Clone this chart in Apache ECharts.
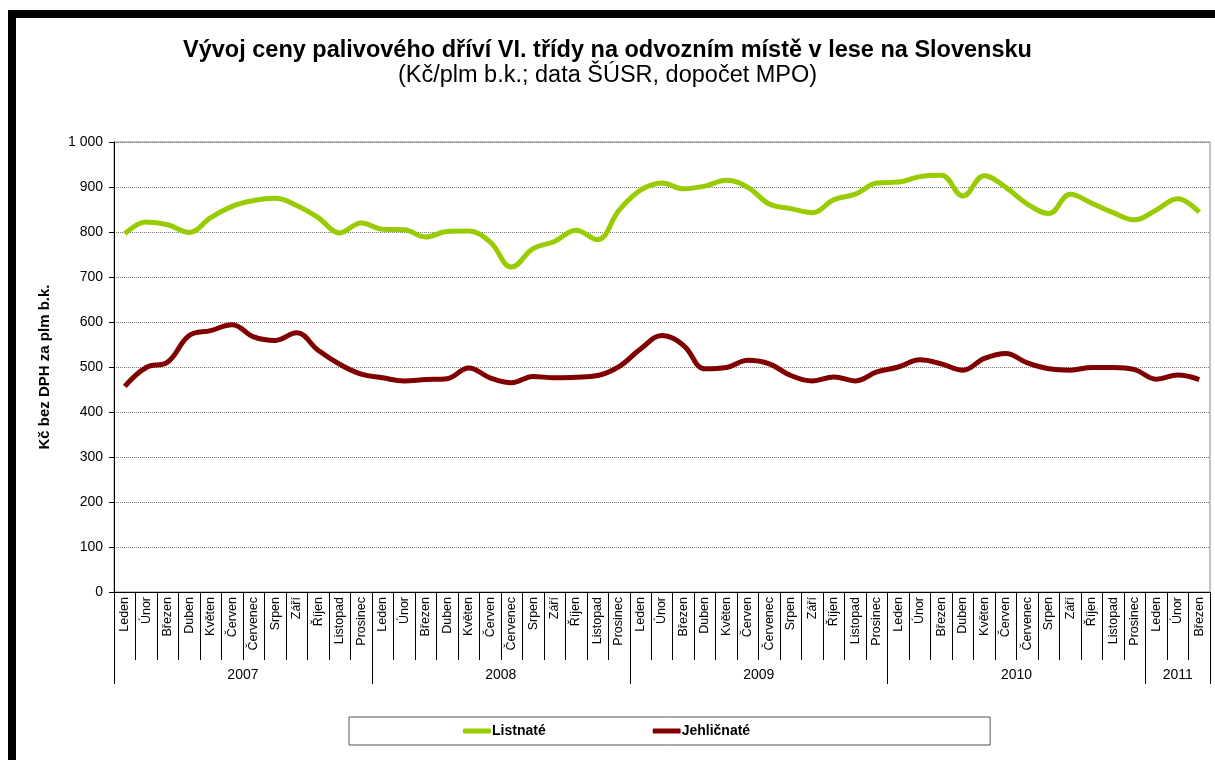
<!DOCTYPE html>
<html>
<head>
<meta charset="utf-8">
<script src="https://cdn.jsdelivr.net/npm/echarts@6/dist/echarts.min.js"></script>
<style>
html,body{margin:0;padding:0;background:#fff;overflow:hidden;}
#chart{width:1215px;height:760px;position:absolute;left:0;top:0;}
#frame{position:absolute;left:8px;top:10px;width:1207px;height:750px;border-top:8px solid #000;border-left:8px solid #000;pointer-events:none;box-sizing:border-box;}
</style>
</head>
<body>
<div id="chart"></div>
<div id="frame"></div>
<script>
const monthNames = ['Leden','Únor','Březen','Duben','Květen','Červen','Červenec','Srpen','Září','Říjen','Listopad','Prosinec'];
const yearLabels = ['2007','2008','2009','2010','2011'];
const yearMonthCounts = [12,12,12,12,3];

const listnate = [796,822,816,799,832,857,870,875,859,832,798,820,
                  806,805,789,801,802,778,722,763,779,804,783,848,
                  893,909,896,902,915,899,862,852,843,872,884,909,
                  911,923,926,880,925,899,862,841,884,864,843,827,
                  849,874,844];
const jehlicnate = [457,499,511,570,581,594,567,559,576,537,506,484,
                    476,469,472,474,498,476,465,479,476,477,481,501,
                    540,570,548,496,499,515,507,481,469,478,469,489,
                    500,516,507,493,519,530,509,496,493,499,499,494,
                    473,482,472];

const categories = [];
yearMonthCounts.forEach(n => { for (let i = 0; i < n; i++) categories.push(monthNames[i]); });
const total = categories.length;
const yearBounds = [0];
const yearCenters = [];
let acc = 0;
yearMonthCounts.forEach(n => { yearCenters.push(acc + n / 2); acc += n; yearBounds.push(acc); });

const font = 'Liberation Sans, Arial, sans-serif';
const chart = echarts.init(document.getElementById('chart'), null, {renderer: 'canvas'});
chart.setOption({
  backgroundColor: '#fff',
  animation: false,
  textStyle: {fontFamily: font},
  title: {
    text: 'Vývoj ceny palivového dříví VI. třídy na odvozním místě v lese na Slovensku',
    subtext: '(Kč/plm b.k.; data ŠÚSR, dopočet MPO)',
    left: 'center', top: 34, itemGap: 1,
    textStyle: {fontFamily: font, fontSize: 23.5, fontWeight: 'bold', color: '#000'},
    subtextStyle: {fontFamily: font, fontSize: 23.5, color: '#000'}
  },
  legend: {
    data: ['Listnaté','Jehličnaté'],
    icon: 'roundRect',
    left: 349, top: 717,
    padding: [7, 240, 7, 114],
    itemGap: 107, itemWidth: 28, itemHeight: 5,
    borderColor: '#555', borderWidth: 1,
    textStyle: {fontFamily: font, fontSize: 14, fontWeight: 'bold', color: '#000', padding: [0,0,0,-4]}
  },
  grid: {left: 114, right: 5, top: 142, bottom: 168, show: true, borderColor: '#888', borderWidth: 1, backgroundColor: 'transparent'},
  xAxis: [
    {
      type: 'category', data: categories, boundaryGap: true, position: 'bottom',
      axisLine: {lineStyle: {color: '#000', width: 1}},
      axisTick: {show: true, interval: 0, length: 68, lineStyle: {color: '#000'}},
      axisLabel: {interval: 0, rotate: 90, fontSize: 12.5, color: '#000', margin: 5, fontFamily: font},
      splitLine: {show: false}
    },
    {
      type: 'value', min: 0, max: total, interval: 12, position: 'bottom',
      axisLine: {show: false},
      axisTick: {show: true, length: 92, lineStyle: {color: '#000'}, customValues: yearBounds},
      axisLabel: {show: false},
      splitLine: {show: false}
    },
    {
      type: 'value', min: 0, max: total, position: 'bottom',
      axisLine: {show: false},
      axisTick: {show: false},
      axisLabel: {show: true, fontSize: 14, color: '#000', margin: 76, fontFamily: font,
        customValues: yearCenters,
        formatter: function (v) { const i = yearCenters.indexOf(v); return i >= 0 ? yearLabels[i] : ''; }},
      splitLine: {show: false}
    }
  ],
  yAxis: {
    type: 'value', min: 0, max: 1000, interval: 100,
    name: 'Kč bez DPH za plm b.k.', nameLocation: 'middle', nameGap: 62,
    nameTextStyle: {fontFamily: font, fontSize: 15, fontWeight: 'bold', color: '#000'},
    axisLine: {show: true, lineStyle: {color: '#000'}},
    axisTick: {show: true, length: 5, lineStyle: {color: '#000'}},
    axisLabel: {fontSize: 14, color: '#000', margin: 11, fontFamily: font,
      formatter: function (v) { return v >= 1000 ? String(v).replace(/\B(?=(\d{3})+(?!\d))/g, ' ') : String(v); }},
    splitLine: {show: true, lineStyle: {color: '#777', type: [1, 1], width: 1}}
  },
  series: [
    {name: 'Listnaté', type: 'line', xAxisIndex: 0, data: listnate, smooth: 0.4, showSymbol: false, symbol: 'none',
     lineStyle: {color: '#99CC00', width: 5}, itemStyle: {color: '#99CC00'}},
    {name: 'Jehličnaté', type: 'line', xAxisIndex: 0, data: jehlicnate, smooth: 0.4, showSymbol: false, symbol: 'none',
     lineStyle: {color: '#800000', width: 5}, itemStyle: {color: '#800000'}}
  ]
});
</script>
</body>
</html>
